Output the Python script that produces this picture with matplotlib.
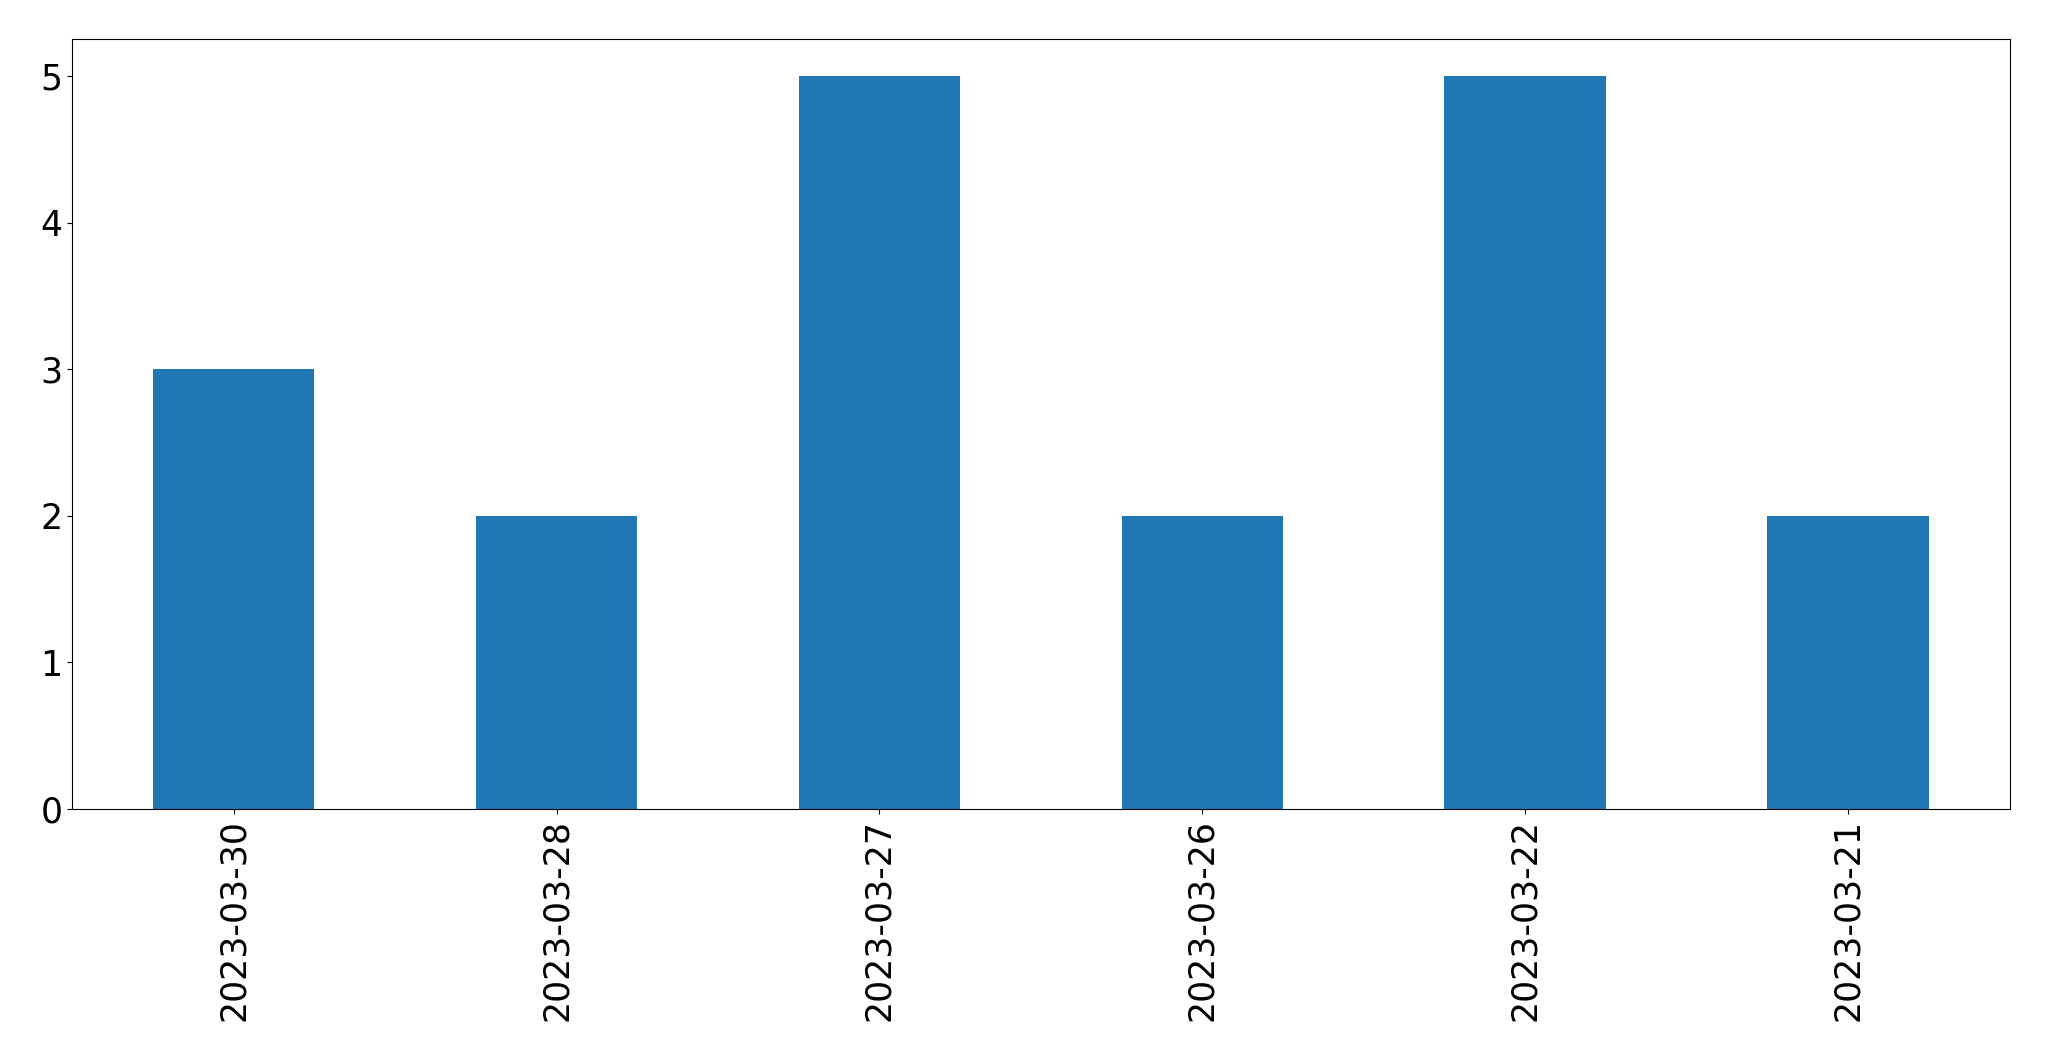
import matplotlib
matplotlib.use("Agg")
import matplotlib.pyplot as plt
import numpy as np

dates = ["2023-03-30", "2023-03-28", "2023-03-27", "2023-03-26", "2023-03-22", "2023-03-21"]
counts = [3, 2, 5, 2, 5, 2]

W, H = 2049, 1061
fig = plt.figure(figsize=(W / 100, H / 100), dpi=100)
ax = fig.add_axes([72.3 / W, 1 - 809 / H, (2009.5 - 72.3) / W, (809 - 39.3) / H])

x = np.arange(len(dates))
ax.bar(x, counts, width=0.5, color="#1f77b4")
ax.set_xlim(-0.5, len(dates) - 0.5)
ax.set_ylim(0, 5.25)
ax.set_xticks(x)
ax.set_xticklabels(dates, rotation=90)
ax.tick_params(axis="both", labelsize=25)

fig.savefig("out.png", dpi=100)
